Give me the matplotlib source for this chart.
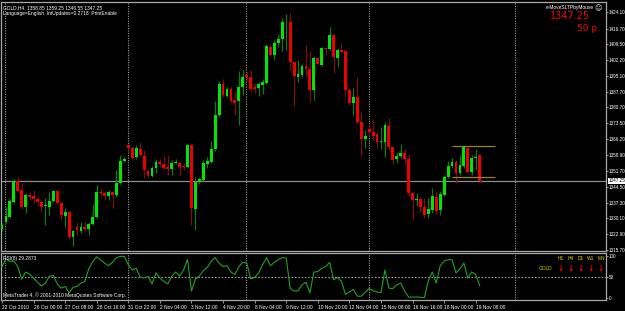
import matplotlib
matplotlib.use('Agg')
import matplotlib.pyplot as plt
import numpy as np

# GOLD H4 candles, 22 Oct 2010 .. 19 Nov 2010
opens = [1325.3, 1328.6, 1330.9, 1337.7, 1347.2, 1343.1, 1335.2, 1340.8, 1340.3, 1339.0,
         1337.7, 1335.7, 1335.5, 1338.2, 1342.6, 1337.0, 1331.2, 1333.0, 1321.8, 1326.0,
         1324.4, 1326.3, 1325.3, 1327.6, 1330.9, 1342.3, 1341.5, 1340.5, 1342.0, 1340.8,
         1346.4, 1356.4, 1363.6, 1362.0, 1358.0, 1361.7, 1358.6, 1351.7, 1349.6, 1353.2,
         1356.0, 1355.1, 1353.4, 1352.5, 1355.4, 1355.5, 1354.0, 1353.4, 1363.6, 1334.4,
         1346.6, 1347.6, 1355.0, 1356.0, 1361.6, 1377.3, 1391.2, 1386.1, 1389.1, 1384.1,
         1383.6, 1389.9, 1395.5, 1394.7, 1389.9, 1389.4, 1390.9, 1391.7, 1408.4, 1404.6,
         1409.9, 1411.9, 1419.5, 1419.5, 1401.6, 1394.7, 1395.5, 1399.6, 1398.2, 1388.7,
         1403.4, 1400.1, 1407.7, 1407.4, 1413.7, 1403.4, 1406.9, 1406.4, 1388.7, 1382.6,
         1385.6, 1374.2, 1366.3, 1370.9, 1369.7, 1368.4, 1365.1, 1365.1, 1372.2, 1362.5,
         1357.2, 1358.6, 1360.1, 1357.2, 1341.8, 1338.5, 1338.8, 1335.5, 1332.0, 1333.9,
         1340.0, 1333.9, 1340.8, 1348.8, 1354.0, 1356.0, 1350.7, 1354.0, 1362.1, 1351.1,
         1357.7, 1358.85]
highs = [1328.0, 1335.5, 1339.0, 1348.0, 1348.8, 1346.1, 1341.5, 1342.3, 1343.1, 1340.0,
         1338.5, 1339.3, 1342.0, 1343.2, 1343.2, 1337.5, 1334.7, 1333.5, 1325.0, 1328.6,
         1328.3, 1328.6, 1328.6, 1336.5, 1345.3, 1344.1, 1342.7, 1343.1, 1342.5, 1352.2,
         1359.0, 1358.0, 1364.0, 1363.2, 1363.6, 1364.8, 1361.3, 1352.5, 1354.0, 1357.0,
         1357.0, 1358.6, 1359.0, 1356.7, 1357.0, 1356.2, 1355.2, 1364.0, 1363.9, 1349.1,
         1349.0, 1356.7, 1358.2, 1365.4, 1383.8, 1392.8, 1393.7, 1390.0, 1390.0, 1388.2,
         1397.3, 1397.8, 1397.0, 1397.8, 1391.7, 1392.5, 1393.7, 1409.5, 1409.6, 1411.5,
         1414.0, 1421.3, 1423.3, 1423.6, 1402.0, 1402.3, 1400.5, 1409.2, 1406.9, 1404.0,
         1403.9, 1408.2, 1408.4, 1417.2, 1414.2, 1408.0, 1409.9, 1407.0, 1389.5, 1389.4,
         1394.7, 1378.8, 1370.4, 1372.7, 1375.3, 1369.7, 1371.6, 1374.2, 1376.0, 1363.0,
         1360.5, 1363.9, 1361.6, 1359.3, 1342.0, 1341.8, 1340.0, 1339.3, 1339.3, 1343.8,
         1342.6, 1342.6, 1349.9, 1356.3, 1357.8, 1356.7, 1359.0, 1363.0, 1362.5, 1359.0,
         1361.6, 1359.25]
lows = [1324.5, 1328.0, 1330.5, 1337.0, 1342.0, 1334.5, 1332.7, 1338.5, 1337.0, 1336.2,
        1333.2, 1327.1, 1331.7, 1337.8, 1336.5, 1329.4, 1326.3, 1320.6, 1317.5, 1322.5,
        1323.3, 1324.4, 1322.5, 1327.0, 1330.5, 1340.3, 1338.5, 1338.5, 1334.7, 1339.7,
        1346.0, 1356.0, 1361.5, 1356.8, 1357.0, 1358.5, 1348.4, 1348.5, 1349.0, 1351.0,
        1353.7, 1352.2, 1349.9, 1349.9, 1355.0, 1349.9, 1352.2, 1353.0, 1327.1, 1324.8,
        1346.0, 1347.0, 1352.9, 1355.5, 1361.0, 1376.5, 1385.5, 1385.5, 1383.0, 1377.3,
        1372.7, 1386.4, 1393.0, 1387.9, 1387.4, 1386.1, 1386.7, 1391.4, 1404.3, 1402.3,
        1408.4, 1406.4, 1407.0, 1397.8, 1381.5, 1392.5, 1394.4, 1394.7, 1383.3, 1384.1,
        1400.0, 1399.6, 1404.6, 1406.9, 1396.3, 1399.0, 1405.4, 1385.6, 1382.0, 1377.3,
        1373.0, 1359.0, 1362.1, 1368.0, 1365.9, 1362.1, 1361.6, 1358.3, 1361.5, 1354.9,
        1355.2, 1357.8, 1354.9, 1340.5, 1329.4, 1335.8, 1333.2, 1330.1, 1330.1, 1332.7,
        1332.0, 1331.7, 1340.3, 1348.4, 1352.9, 1346.4, 1349.9, 1353.0, 1350.7, 1349.9,
        1352.2, 1346.55]
closes = [1327.1, 1331.4, 1338.0, 1347.3, 1342.8, 1335.2, 1340.8, 1340.0, 1338.8, 1337.4,
          1335.2, 1336.2, 1338.2, 1342.6, 1337.0, 1331.7, 1333.2, 1321.8, 1324.4, 1324.8,
          1326.3, 1325.3, 1327.6, 1330.9, 1342.3, 1341.5, 1340.3, 1342.0, 1340.8, 1346.4,
          1356.3, 1357.3, 1362.4, 1357.8, 1362.0, 1359.0, 1352.2, 1349.6, 1353.2, 1356.0,
          1354.8, 1353.2, 1352.5, 1355.5, 1356.0, 1353.7, 1353.4, 1363.6, 1334.7, 1346.8,
          1348.1, 1355.2, 1356.3, 1361.6, 1377.3, 1391.2, 1386.4, 1389.1, 1383.8, 1382.9,
          1389.9, 1394.7, 1394.6, 1389.0, 1389.0, 1391.4, 1392.2, 1408.7, 1404.6, 1410.2,
          1411.9, 1419.5, 1419.8, 1401.6, 1395.0, 1396.0, 1399.8, 1398.2, 1388.7, 1403.4,
          1400.4, 1407.7, 1407.2, 1413.7, 1403.9, 1406.9, 1406.1, 1388.7, 1382.6, 1385.6,
          1374.2, 1366.2, 1367.7, 1369.4, 1367.8, 1365.1, 1365.5, 1372.7, 1362.5, 1356.7,
          1358.6, 1360.1, 1357.2, 1341.8, 1338.5, 1339.1, 1335.2, 1331.7, 1334.2, 1340.3,
          1333.6, 1341.1, 1348.8, 1354.0, 1356.0, 1350.7, 1354.5, 1362.5, 1351.4, 1357.5,
          1358.3, 1347.25]

# RSI(8) per bar
rsi = [74, 92, 86, 87, 74, 44, 61, 56, 47, 37,
       28, 35, 51, 53, 33, 23, 27, 12, 25, 27,
       35, 39, 69, 86, 97, 90, 82, 76, 84, 95,
       98, 98, 78, 66, 70, 49, 47, 51, 33, 59,
       47, 39, 33, 51, 61, 51, 66, 91, 16, 45,
       52, 64, 72, 87, 95, 82, 74, 76, 61, 55,
       74, 84, 82, 45, 48, 59, 78, 95, 76, 84,
       90, 95, 94, 23, 16, 17, 31, 37, 12, 61,
       62, 70, 74, 84, 43, 48, 39, 8, 14, 20,
       4, 4, 13, 22, 17, 14, 12, 66, 23, 22,
       31, 35, 16, 2, 2, 2, 1.5, 0.5, 41, 61,
       35, 76, 87, 90, 90, 59, 69, 82, 47, 61,
       55, 29.2873]

price_ticks = [1424.10, 1416.70, 1409.50, 1402.20, 1395.10, 1387.70, 1380.70, 1373.50,
               1366.20, 1358.90, 1351.70, 1344.50, 1337.30, 1330.10, 1322.90, 1315.70]
time_labels = ['22 Oct 2010', '26 Oct 00:00', '27 Oct 08:00', '28 Oct 16:00',
               '31 Oct 22:00', '2 Nov 04:00', '3 Nov 12:00', '4 Nov 20:00',
               '8 Nov 04:00', '9 Nov 12:00', '10 Nov 20:00', '12 Nov 04:00',
               '15 Nov 08:00', '16 Nov 16:00', '18 Nov 00:00', '19 Nov 08:00']
label_every = 8
grid_bars = [0.8, 32, 61.8, 93, 130]
bid = 1347.25
box_levels = [1362.9, 1348.9]
box_bars = (113.9, 124.9)

W, H = 625, 311
BG = 'black'
EDGE = '#a8a8a8'
SMALL = 'Liberation Sans'
fs = 3.5
fs_axis = 3.3


def px_axes(left, top, right, bottom):
    return [left / W, 1 - bottom / H, (right - left) / W, (bottom - top) / H]


fig = plt.figure(figsize=(W / 100, H / 100), dpi=100, facecolor=BG)
ax = fig.add_axes(px_axes(1, 2, 606, 251), facecolor=BG)
ax2 = fig.add_axes(px_axes(1, 253, 606, 300), facecolor=BG)

n = len(opens)
x = np.arange(n)
o, h, l, c = map(np.array, (opens, highs, lows, closes))
up = c >= o

# wicks
ax.vlines(x[up], l[up], h[up], color='#0f7a0f', lw=0.9, zorder=3)
ax.vlines(x[~up], l[~up], h[~up], color='#7a0f0f', lw=0.9, zorder=3)
# bodies
body_lo = np.minimum(o, c)
body_h = np.maximum(np.abs(c - o), 0.35)
ax.bar(x[up], body_h[up], bottom=body_lo[up], width=0.72, color='#00e600', lw=0, zorder=4)
ax.bar(x[~up], body_h[~up], bottom=body_lo[~up], width=0.72, color='#ee0000', lw=0, zorder=4)

xlim = (-0.25, 153.0)
for a in (ax, ax2):
    a.set_xlim(*xlim)
    for s in a.spines.values():
        s.set_color(EDGE)
        s.set_linewidth(0.9)
    for gb in grid_bars:
        a.axvline(gb, color='#9a9a9a', lw=0.8, ls=(0, (1, 1.2)), zorder=1)

ax.set_ylim(1315.24, 1428.8)
ax.axhline(bid, color='#8c8c8c', lw=0.9, zorder=2)
for lvl in box_levels:
    ax.hlines(lvl, box_bars[0], box_bars[1], color='#a08018', lw=0.9, zorder=5)

ax.yaxis.tick_right()
ax.set_yticks(price_ticks)
ax.set_yticklabels([f'{p:.2f}' for p in price_ticks], family=SMALL)
ax.tick_params(axis='y', colors=EDGE, labelcolor='white', labelsize=fs_axis, length=1.5, width=0.6, pad=0.6)
ax.set_xticks([])
ax.annotate(f'{bid:.2f}', xy=(1.0, bid), xycoords=('axes fraction', 'data'),
            xytext=(1.6, 0), textcoords='offset points', va='center', ha='left',
            fontsize=fs_axis, color='black', family=SMALL,
            bbox=dict(boxstyle='square,pad=0.1', fc='white', ec='none'))

ax.text(0.004, 0.988, 'GOLD,H4  1358.85 1359.25 1346.55 1347.25', transform=ax.transAxes,
        fontsize=fs, color='white', va='top', ha='left', family=SMALL)
ax.text(0.004, 0.965, 'Language=English  IntUpdates=0.2718  PrintEnable', transform=ax.transAxes,
        fontsize=fs, color='white', va='top', ha='left', family=SMALL)
ax.text(0.98, 0.988, 'e-MoveSLTPbyMouse', transform=ax.transAxes,
        fontsize=fs, color='white', va='top', ha='right', family=SMALL)
ax.text(0.993, 0.99, '\u263a', transform=ax.transAxes, fontsize=5, color='white', va='top', ha='right')
ax.text(0.974, 0.965, f'{bid:.2f}', transform=ax.transAxes,
        fontsize=7, color='#ff0000', va='top', ha='right')
ax.text(0.99, 0.912, '50 p.', transform=ax.transAxes,
        fontsize=6.5, color='#ff0000', va='top', ha='right')

# RSI pane
ax2.plot(x, rsi, color='#22a022', lw=0.8, zorder=3)
ax2.set_ylim(-5, 106)
ax2.axhline(50, color='#9a9a9a', lw=0.8, ls=(0, (1.5, 1.5)), zorder=1)
ax2.yaxis.tick_right()
ax2.set_yticks([100, 50, 0])
ax2.set_yticklabels(['100', '50', '0'], family=SMALL)
ax2.tick_params(axis='y', colors=EDGE, labelcolor='white', labelsize=fs_axis, length=1.5, width=0.6, pad=0.6)
tick_pos = np.arange(0, n, label_every)[:len(time_labels)]
ax2.set_xticks(tick_pos)
ax2.set_xticklabels(time_labels, ha='left', family=SMALL)
ax2.tick_params(axis='x', colors=EDGE, labelcolor='white', labelsize=fs, length=2, width=0.6, pad=1.5)
ax2.text(0.004, 0.93, f'RSI(8) {rsi[-1]:.4f}', transform=ax2.transAxes,
         fontsize=fs, color='white', va='top', ha='left', family=SMALL)
ax2.text(0.004, 0.04, 'MetaTrader 4, \u00a9 2001-2010 MetaQuotes Software Corp.', transform=ax2.transAxes,
         fontsize=fs, color='white', va='bottom', ha='left', family=SMALL)

tfs = ['H1', 'H4', 'D1', 'W1', 'MN']
for k, tf in enumerate(tfs):
    xf = (561 + 10 * k - 1) / 605
    ax2.text(xf, 0.93, tf, transform=ax2.transAxes, fontsize=fs, color='#e0d000',
             ha='center', va='top', family=SMALL)
    ax2.text(xf, 0.76, '\u2193', transform=ax2.transAxes, fontsize=5.5, color='#ff0000',
             ha='center', va='top', fontweight='bold')
ax2.text((546 - 1) / 605, 0.72, 'GOLD', transform=ax2.transAxes, fontsize=fs,
         color='#e0d000', ha='center', va='top', family=SMALL)

fig.savefig('out.png', dpi=100, facecolor=BG)
